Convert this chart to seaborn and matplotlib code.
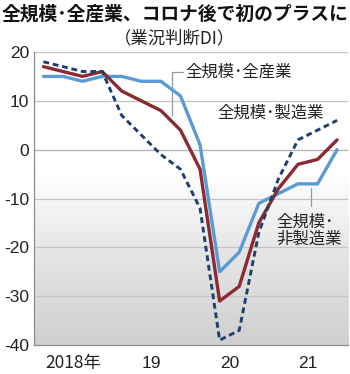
import numpy as np
import pandas as pd
import matplotlib
matplotlib.use("Agg")
import matplotlib.pyplot as plt
from matplotlib.colors import LinearSegmentedColormap
import seaborn as sns

# Quarterly Tankan business conditions DI, all-size enterprises (Mar 2018 - Dec 2021)
quarters = ["2018/3", "2018/6", "2018/9", "2018/12",
            "2019/3", "2019/6", "2019/9", "2019/12",
            "2020/3", "2020/6", "2020/9", "2020/12",
            "2021/3", "2021/6", "2021/9", "2021/12"]
all_industries = [17, 16, 15, 16, 12, 10, 8, 4, -4, -31, -28, -15, -8, -3, -2, 2]
manufacturing = [18, 17, 16, 16, 7, 3, -1, -4, -12, -39, -37, -17, -6, 2, 4, 6]
non_manufacturing = [15, 15, 14, 15, 15, 14, 14, 11, 1, -25, -21, -11, -9, -7, -7, 0]
year_labels = ["2018年", "19", "20", "21"]
y_ticks = [20, 10, 0, -10, -20, -30, -40]

title = "全規模･全産業、コロナ後で初のプラスに"
subtitle = "（業況判断DI）"
name_all = "全規模･全産業"
name_mfg = "全規模･製造業"
name_nonmfg = "全規模･\n非製造業"

sns.set_theme(style="white")
jp = ["Noto Sans CJK JP", "DejaVu Sans"]
num_font = ["Liberation Sans Narrow", "Liberation Sans", "DejaVu Sans"]
plt.rcParams["font.family"] = jp

df = pd.DataFrame({
    "q": np.arange(len(quarters)),
    "all": all_industries,
    "mfg": manufacturing,
    "nonmfg": non_manufacturing,
})

fig = plt.figure(figsize=(3.5, 3.74), dpi=100)
ax = fig.add_axes([0.096, 0.0775, 0.898, 0.7835])

x0, x1 = -0.5, 15.55
y0, y1 = -40, 20
ax.set_xlim(x0, x1)
ax.set_ylim(y0, y1)

# grey band below zero, fading to white toward the bottom
grad = np.linspace(0, 1, 256).reshape(-1, 1)
cmap = LinearSegmentedColormap.from_list(
    "band", [(0.0, "#d0d0d0"), (0.45, "#e4e4e4"), (0.88, "#ffffff"), (1.0, "#ffffff")])
ax.imshow(grad, cmap=cmap, aspect="auto", extent=[x0, x1, 0, y0],
          origin="upper", zorder=0, interpolation="bilinear")

for v in [20, 10, -10, -20, -30]:
    ax.axhline(v, color="#c4c4c4", lw=0.9, zorder=1)
ax.axhline(0, color="#b0b0b0", lw=0.9, zorder=1)

sns.lineplot(data=df, x="q", y="nonmfg", ax=ax, color="#5b9bd5", lw=2.4,
             zorder=3, legend=False)
sns.lineplot(data=df, x="q", y="all", ax=ax, color="#8a2a33", lw=2.4,
             zorder=4, legend=False)
sns.lineplot(data=df, x="q", y="mfg", ax=ax, color="#1f3f6d", lw=2.1,
             zorder=5, legend=False)
ax.lines[-1].set_linestyle((0, (2.0, 1.3)))

# axes frame
for s in ["top", "right"]:
    ax.spines[s].set_visible(False)
for s in ["left", "bottom"]:
    ax.spines[s].set_color("#8c8c8c")
    ax.spines[s].set_linewidth(0.9)

ax.set_yticks(y_ticks)
ax.set_yticklabels([str(v) for v in y_ticks], fontsize=12.5, family=num_font,
                   color="#222222")
ax.tick_params(axis="y", length=0, pad=3)

# year boundaries as ticks, labels centred within each year
ax.set_xticks([3.5, 7.5, 11.5])
ax.set_xticklabels([])
ax.tick_params(axis="x", length=7, width=0.9, color="#8c8c8c", direction="out")
for i, lab in enumerate(year_labels):
    ax.text(1.5 + 4 * i, -43.7, lab, ha="center", va="center", fontsize=12.5,
            family=num_font if i else jp, color="#222222", clip_on=False)
ax.set_xlabel("")
ax.set_ylabel("")

# series labels with leader lines
ax.text(7.25, 15.9, name_all, ha="left", va="center", fontsize=11.8,
        color="#222222")
ax.plot([6.55, 6.55, 7.15], [7.0, 15.9, 15.9], color="#999999", lw=0.9, zorder=2)
ax.text(8.9, 7.4, name_mfg, ha="left", va="center", fontsize=11.8,
        color="#222222")
ax.text(11.9, -16.6, name_nonmfg, ha="left", va="center", fontsize=11.8,
        color="#222222", linespacing=1.05)
ax.plot([13.65, 13.65], [-7.8, -11.6], color="#999999", lw=0.9, zorder=2)

fig.text(0.5, 0.963, title, ha="center", va="center", fontsize=13.5,
         fontweight="bold", color="#111111")
fig.text(0.5, 0.898, subtitle, ha="center", va="center", fontsize=12.5,
         color="#222222")

fig.savefig("out.png", dpi=100, facecolor="white")
